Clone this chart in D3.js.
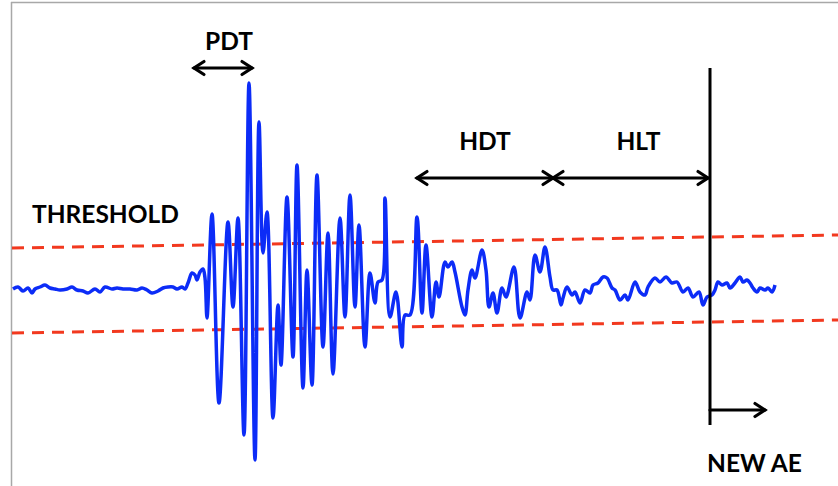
<!DOCTYPE html>
<html>
<head>
<meta charset="utf-8">
<script src="https://cdn.jsdelivr.net/npm/d3@7"></script>
<style>
  html, body { margin: 0; padding: 0; background: #fff; }
  svg { display: block; }
  text { font-family: Lato, "Open Sans", sans-serif; font-weight: 700; fill: #000; }
</style>
</head>
<body>
<svg id="chart" width="838" height="486"></svg>
<script>
// Acoustic emission hit: waveform samples (time in µs, amplitude in mV)
const waveX = [
  13,18,23,28,32,35,40,45,50,55,60,67,72,77,83,88,95,100,105,112,117,123,130,137,142,147,152,158,163,168,173,177,182,185,188,192,195,197,200,203,205,
  207,212,219,228,233,238,244,249,255,259,263,267,273,278,281,287,293,297,303,307,312,317,323,328,333,340,345,350,355,359,365,370,375,378,382,385,390,396,402,405,410,
  417,422,426,432,436,439,445,448,452,455,462,465,468,472,475,482,486,489,493,497,502,506,514,520,527,530,535,540,545,550,
  553,557,561,563,567,572,575,580,585,590,593,598,603,607,612,615,620,625,628,635,640,645,648,655,660,666,672,677,683,688,693,699,703,707,712,715,718,722,727,730,735,740,743,747,750,753,757,760,765,768,772,775
];
const waveY = [
  289,287,291,288,293,289,287,285,288,289,290,289,287,290,291,293,289,292,287,289,288,289,289,290,288,290,293,291,288,287,287,289,287,289,283,273,275,280,272,269,278,
  318,214,403,222,307,218,435,83,460,122,253,212,418,305,365,197,357,165,388,270,385,175,347,233,374,218,317,195,307,225,347,273,303,282,280,198,317,292,347,315,315,
  217,313,245,317,282,297,262,267,262,272,307,315,290,270,278,250,270,307,293,313,288,297,267,318,292,300,255,272,247,277,
  290,290,305,298,287,295,292,303,290,293,285,283,277,278,288,290,300,295,300,282,292,295,287,278,282,277,283,282,292,288,297,292,305,297,295,290,282,285,283,288,283,277,282,280,283,288,292,288,290,288,292,285
];
// convert drawing samples to µs / mV
const waveTime = waveX.map(x => (x - 12) / 2);
const waveAmp = waveY.map(y => 290 - y);

// Threshold band (slight drift across the record)
const thresholdTime = [0, 413];
const upperThreshold = [42, 55];
const lowerThreshold = [-43, -30];

// Timing parameters (µs)
const pdtSpan = [91, 120];
const hdtSpan = [202.5, 270.5];
const hltSpan = [270.5, 348];
const newEventTime = 349;
const eventLineAmp = [222, -135];

const labels = { threshold: "THRESHOLD", pdt: "PDT", hdt: "HDT", hlt: "HLT", newAE: "NEW AE" };

const svg = d3.select("#chart");
const W = 838, H = 486;
const FS = 24.5;

const x = d3.scaleLinear().domain([0, 413]).range([12, 838]);
const y = d3.scaleLinear().domain([-200, 200]).range([490, 90]);

// frame edges
svg.append("line").attr("x1", 11.5).attr("x2", 11.5).attr("y1", 2).attr("y2", H)
  .attr("stroke", "#a8a8a8").attr("stroke-width", 1.5);
svg.append("line").attr("x1", 11).attr("x2", W).attr("y1", 2.5).attr("y2", 2.5)
  .attr("stroke", "#a8a8a8").attr("stroke-width", 1.5);

// threshold lines
const thLine = d3.line().x(d => x(d[0])).y(d => y(d[1]));
[upperThreshold, lowerThreshold].forEach(th => {
  svg.append("path")
    .datum(thresholdTime.map((t, i) => [t, th[i]]))
    .attr("d", thLine)
    .attr("fill", "none")
    .attr("stroke", "#f2391f")
    .attr("stroke-width", 3)
    .attr("stroke-dasharray", "12,8");
});

// waveform
const wave = d3.line()
  .x(d => x(d[0])).y(d => y(d[1]))
  .curve(d3.curveCatmullRom.alpha(0.5));
svg.append("path")
  .datum(waveTime.map((t, i) => [t, waveAmp[i]]))
  .attr("d", wave)
  .attr("fill", "none")
  .attr("stroke", "#0c2cf7")
  .attr("stroke-width", 3.5)
  .attr("stroke-linejoin", "round");

// arrows
function head(px, py, dir) {
  const L = 10, hw = 6.5;
  return `M${px - dir * L},${py - hw} L${px},${py} L${px - dir * L},${py + hw}`;
}
function arrow(x1, x2, yy, both) {
  const g = svg.append("g").attr("stroke", "#000").attr("stroke-width", 3.2)
    .attr("fill", "none").attr("stroke-linecap", "round").attr("stroke-linejoin", "miter");
  g.append("line").attr("x1", x1).attr("x2", x2).attr("y1", yy).attr("y2", yy);
  g.append("path").attr("d", head(x2, yy, 1));
  if (both) g.append("path").attr("d", head(x1, yy, -1));
}

const ex = x(newEventTime);
svg.append("line").attr("x1", ex).attr("x2", ex)
  .attr("y1", y(eventLineAmp[0])).attr("y2", y(eventLineAmp[1]))
  .attr("stroke", "#000").attr("stroke-width", 3);

arrow(x(pdtSpan[0]), x(pdtSpan[1]), 68, true);
arrow(x(hdtSpan[0]), x(hdtSpan[1]), 178, true);
arrow(x(hltSpan[0]), x(hltSpan[1]), 178, true);
arrow(ex, ex + 55, 410, false);

// labels
svg.append("text").attr("x", 32).attr("y", 223).attr("font-size", FS).text(labels.threshold);
svg.append("text").attr("x", x(d3.mean(pdtSpan)) + 6).attr("y", 50).attr("text-anchor", "middle").attr("font-size", FS).text(labels.pdt);
svg.append("text").attr("x", x(d3.mean(hdtSpan))).attr("y", 150).attr("text-anchor", "middle").attr("font-size", FS).text(labels.hdt);
svg.append("text").attr("x", x(d3.mean(hltSpan)) + 8).attr("y", 150).attr("text-anchor", "middle").attr("font-size", FS).text(labels.hlt);
svg.append("text").attr("x", 707).attr("y", 472).attr("font-size", FS).text(labels.newAE);
</script>
</body>
</html>
